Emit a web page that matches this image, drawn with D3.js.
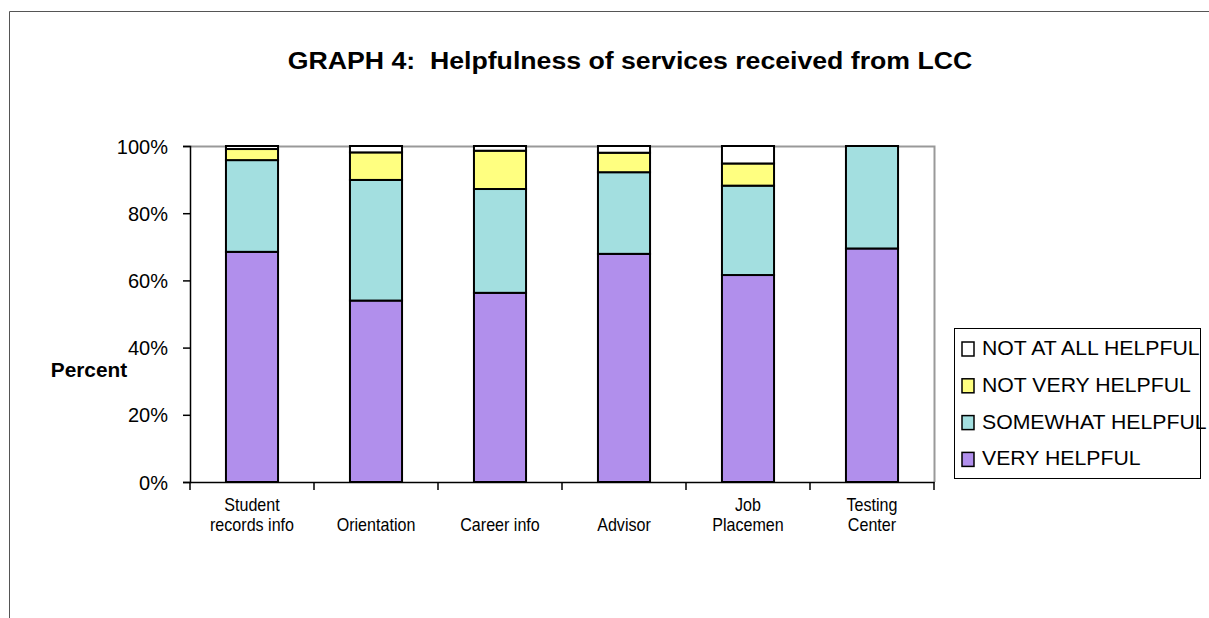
<!DOCTYPE html>
<html><head><meta charset="utf-8">
<script src="https://cdn.jsdelivr.net/npm/d3@7"></script>
<style>body{margin:0;background:#fff}svg{display:block;font-family:"Liberation Sans",Arial,sans-serif}</style>
</head><body><svg id="c" width="1209" height="618"></svg>
<script>
const categories = [["Student","records info"],["Orientation"],["Career info"],["Advisor"],["Job","Placemen"],["Testing","Center"]];
const seriesNames = ["VERY HELPFUL","SOMEWHAT HELPFUL","NOT VERY HELPFUL","NOT AT ALL HELPFUL"];
const veryHelpful     = [68.5, 54.0, 56.3, 67.9, 61.6, 69.5];
const somewhatHelpful = [27.3, 35.9, 30.9, 24.3, 26.6, 30.5];
const notVeryHelpful  = [3.3, 8.2, 11.4, 5.8, 6.6, 0];
const notAtAllHelpful = [0.9, 1.9, 1.4, 2.0, 5.2, 0];
const yTicks = [0, 20, 40, 60, 80, 100];
const colors = ["#B18FEC","#A3DFE0","#FFFF80","#FFFFFF"];

const svg = d3.select("#c");
// outer frame
svg.append("path").attr("d","M1209,11.5H9.5V618").attr("fill","none").attr("stroke","#555").attr("stroke-width",1);

const m = {l:190, r:934, t:146, b:482};
const keys = categories.map((c,i)=>i);
const x = d3.scaleBand().domain(keys).range([m.l,m.r]).paddingInner(0.58).paddingOuter(0.29);
const xb = d3.scaleBand().domain(keys).range([m.l,m.r]);
const y = d3.scaleLinear().domain([0,100]).range([m.b,m.t]);

// plot area top and right border (grey)
svg.append("path").attr("d",`M${m.l},${m.t+0.5}H${m.r+0.5}V${m.b}`).attr("fill","none").attr("stroke","#999").attr("stroke-width",2);

const rows = keys.map(i=>({i, s0:veryHelpful[i], s1:somewhatHelpful[i], s2:notVeryHelpful[i], s3:notAtAllHelpful[i]}));
const stack = d3.stack().keys(["s0","s1","s2","s3"])(rows);
stack.forEach((layer,li)=>{
  svg.append("g").selectAll("rect").data(layer.filter(d=>d[1]-d[0]>0)).join("rect")
    .attr("x",d=>x(d.data.i)).attr("width",x.bandwidth())
    .attr("y",d=>y(d[1])).attr("height",d=>y(d[0])-y(d[1]))
    .attr("fill",colors[li]).attr("stroke","#000").attr("stroke-width",2);
});

// y axis
const ya = svg.append("g").attr("transform",`translate(${m.l},0)`)
  .call(d3.axisLeft(y).tickValues(yTicks).tickFormat(d=>d+"%").tickSize(7).tickPadding(15));
ya.select(".domain").attr("stroke","#000").attr("stroke-width",1.5);
ya.selectAll(".tick line").attr("stroke","#000").attr("stroke-width",1.5);
ya.selectAll("text").attr("font-size",20).attr("fill","#000").attr("dy","0.35em").attr("font-family","Liberation Sans, Arial, sans-serif");

// x axis
const xa = svg.append("g").attr("transform",`translate(0,${m.b})`)
  .call(d3.axisBottom(xb).tickFormat("").tickSize(0));
xa.select(".domain").attr("stroke","#000").attr("stroke-width",1.5);
const tickPos = keys.map(i=>xb(i)).concat([m.r]);
svg.append("g").selectAll("line").data(tickPos).join("line")
  .attr("x1",d=>d).attr("x2",d=>d).attr("y1",m.b).attr("y2",m.b+8).attr("stroke","#000").attr("stroke-width",1.5);
const lab = svg.append("g").selectAll("text").data(keys).join("text")
  .attr("text-anchor","middle").attr("font-size",17.5).attr("fill","#000")
  .attr("transform",i=>`translate(${xb(i)+xb.bandwidth()/2},0) scale(0.92,1)`);
lab.each(function(i){
  const t = d3.select(this);
  const lines = categories[i];
  const y0 = lines.length===2 ? 511 : 531;
  lines.forEach((s,k)=>t.append("tspan").attr("x",0).attr("y",y0+k*20).text(s));
});

// y title
svg.append("text").attr("transform","translate(89,377) scale(1.07,1)").attr("text-anchor","middle").attr("font-size",19.5).attr("font-weight","bold").text("Percent");
// title
svg.append("text").attr("transform","translate(630,69) scale(1.16,1)").attr("text-anchor","middle").attr("font-size",23).attr("font-weight","bold").style("white-space","pre").text("GRAPH 4:  Helpfulness of services received from LCC");

// legend
svg.append("rect").attr("x",954.5).attr("y",328.5).attr("width",246).attr("height",150).attr("fill","#fff").attr("stroke","#000").attr("stroke-width",1);
const legOrder = [3,2,1,0];
const lg = svg.append("g").selectAll("g").data(legOrder).join("g")
  .attr("transform",(d,k)=>`translate(962,${355+k*36.8})`);
lg.append("rect").attr("x",0).attr("y",-13).attr("width",12).attr("height",14).attr("fill",d=>colors[d]).attr("stroke","#000").attr("stroke-width",1.5);
lg.append("text").attr("transform","translate(20,0) scale(1.09,1)").attr("font-size",19.5).text(d=>seriesNames[d]);
</script></body></html>
